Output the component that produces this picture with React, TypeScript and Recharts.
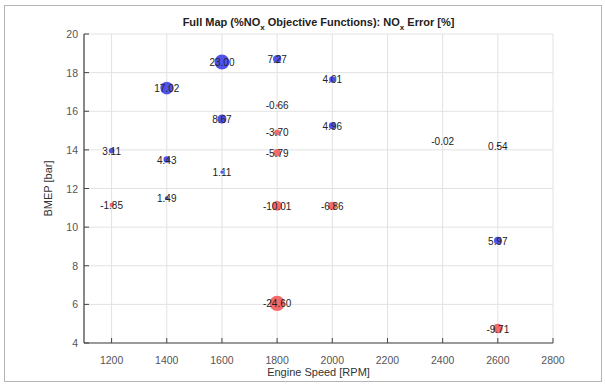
import React from 'react';
import { ScatterChart, Scatter, XAxis, YAxis, ZAxis, CartesianGrid } from 'recharts';

const engineSpeed = [1200, 1200, 1400, 1400, 1400, 1600, 1600, 1600, 1800, 1800, 1800, 1800, 1800, 1800, 2000, 2000, 2000, 2400, 2600, 2600, 2600];
const bmep = [13.95, 11.15, 17.2, 13.5, 11.5, 18.55, 15.6, 12.85, 18.7, 16.3, 14.9, 13.85, 11.1, 6.05, 17.65, 15.25, 11.1, 14.45, 14.2, 9.3, 4.75];
const noxError = [3.11, -1.85, 17.02, 4.43, 1.49, 23.0, 8.67, 1.11, 7.27, -0.66, -3.7, -5.79, -10.01, -24.6, 4.01, 4.96, -6.86, -0.02, 0.54, 5.97, -9.71];
const xTicks = [1200, 1400, 1600, 1800, 2000, 2200, 2400, 2600, 2800];
const yTicks = [4, 6, 8, 10, 12, 14, 16, 18, 20];

const data = engineSpeed.map((rpm, i) => ({
  rpm,
  bmep: bmep[i],
  err: noxError[i],
  mag: Math.abs(noxError[i]),
  label: noxError[i].toFixed(2),
}));

const FONT = '"Liberation Sans", Arial, Helvetica, sans-serif';

const Marker = (props: any) => {
  const { cx, cy, payload, width } = props;
  const r = width != null ? width / 2 : 1.55 * Math.sqrt(Math.abs(payload.err));
  const fill = payload.err >= 0 ? '#5252ea' : '#f26a6a';
  return (
    <g>
      {r > 0.3 && <circle cx={cx} cy={cy} r={r} fill={fill} />}
      <text x={cx} y={cy} dy={4} textAnchor="middle" fontSize={10} fill="#222" fontFamily={FONT}>
        {payload.label}
      </text>
    </g>
  );
};

const XTick = (props: any) => {
  const { x, y, payload } = props;
  return (
    <g>
      <line x1={x} y1={y} x2={x} y2={y - 5} stroke="#444" strokeWidth={1} />
      <text x={x} y={y + 21} textAnchor="middle" fontSize={10.5} fill="#555" fontFamily={FONT}>
        {payload.value}
      </text>
    </g>
  );
};

const YTick = (props: any) => {
  const { x, y, payload } = props;
  return (
    <g>
      <line x1={x} y1={y} x2={x + 5} y2={y} stroke="#444" strokeWidth={1} />
      <text x={x - 6} y={y + 4} textAnchor="end" fontSize={10.5} fill="#555" fontFamily={FONT}>
        {payload.value}
      </text>
    </g>
  );
};

export default function App() {
  return (
    <div style={{ position: 'absolute', left: 0, top: 0, width: 605, height: 385, background: '#fff' }}>
      <div
        style={{
          position: 'absolute',
          left: 4,
          top: 5,
          width: 598,
          height: 377,
          border: '1px solid #b5b5b5',
          boxSizing: 'border-box',
        }}
      />
      <div
        style={{
          position: 'absolute',
          left: 84,
          top: 16,
          width: 469,
          textAlign: 'center',
          fontFamily: FONT,
          fontWeight: 'bold',
          fontSize: 11,
          lineHeight: '13px',
          color: '#222',
          whiteSpace: 'nowrap',
        }}
      >
        Full Map (%NO<sub style={{ fontSize: 8, verticalAlign: -4, lineHeight: 0 }}>x</sub> Objective Functions): NO
        <sub style={{ fontSize: 8, verticalAlign: -4, lineHeight: 0 }}>x</sub> Error [%]
      </div>
      <div style={{ position: 'absolute', left: 0, top: 0 }}>
        <ScatterChart width={605} height={385} margin={{ top: 34, right: 52, left: 0, bottom: 0 }}>
          <CartesianGrid stroke="#e2e2e2" />
          <XAxis
            type="number"
            dataKey="rpm"
            domain={[1100, 2800]}
            ticks={xTicks}
            interval={0}
            height={42}
            tickSize={0}
            tickMargin={0}
            tickLine={false}
            tick={<XTick />}
            axisLine={{ stroke: '#444', strokeWidth: 1.2 }}
            allowDataOverflow
            label={{
              value: 'Engine Speed [RPM]',
              position: 'insideBottom',
              offset: 9,
              style: { fontSize: 11, fill: '#333', fontFamily: FONT },
            }}
          />
          <YAxis
            type="number"
            dataKey="bmep"
            domain={[4, 20]}
            ticks={yTicks}
            interval={0}
            width={84}
            tickSize={0}
            tickMargin={0}
            tickLine={false}
            tick={<YTick />}
            axisLine={{ stroke: '#444', strokeWidth: 1.2 }}
            allowDataOverflow
            label={{
              value: 'BMEP [bar]',
              angle: -90,
              position: 'insideLeft',
              offset: 48,
              style: { fontSize: 11, fill: '#333', fontFamily: FONT, textAnchor: 'middle' },
            }}
          />
          <ZAxis type="number" dataKey="mag" domain={[0, 25]} range={[0, 190]} />
          <Scatter data={data} shape={<Marker />} isAnimationActive={false} />
        </ScatterChart>
      </div>
    </div>
  );
}
